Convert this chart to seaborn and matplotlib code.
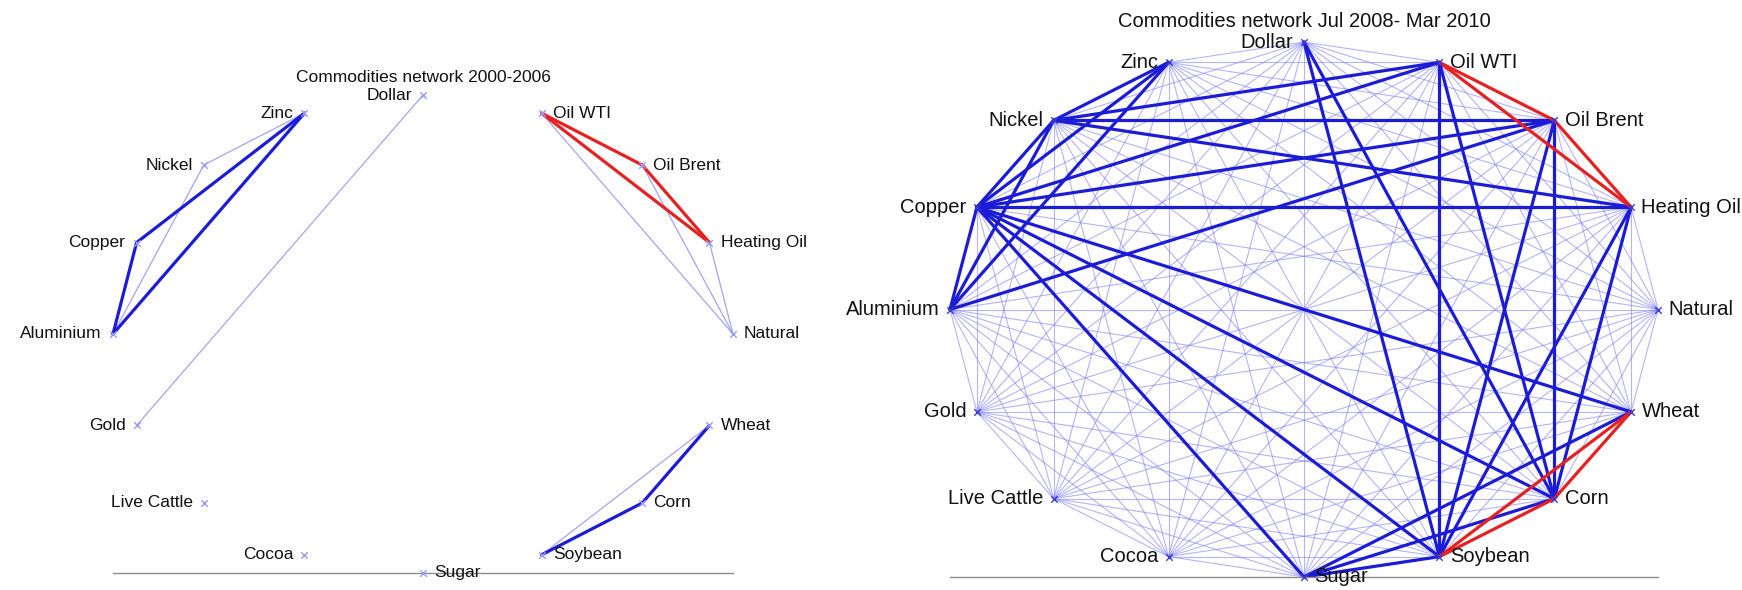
import numpy as np
import pandas as pd
import matplotlib
matplotlib.use("Agg")
import matplotlib.pyplot as plt
import seaborn as sns
from itertools import combinations

sns.set_theme(style="white")
plt.rcParams['font.family'] = ['Liberation Sans', 'DejaVu Sans']

# nodes, clockwise from the top
names = ['Dollar', 'Oil WTI', 'Oil Brent', 'Heating Oil', 'Natural', 'Wheat', 'Corn',
         'Soybean', 'Sugar', 'Cocoa', 'Live Cattle', 'Gold', 'Aluminium', 'Copper',
         'Nickel', 'Zinc']

# 2000-2006 network
left_weak = [('Dollar', 'Gold'), ('Zinc', 'Nickel'), ('Nickel', 'Aluminium'),
             ('Oil WTI', 'Natural'), ('Oil Brent', 'Natural'), ('Heating Oil', 'Natural'),
             ('Wheat', 'Soybean')]
left_strong = [('Zinc', 'Copper'), ('Zinc', 'Aluminium'), ('Copper', 'Aluminium'),
               ('Wheat', 'Corn'), ('Corn', 'Soybean')]
left_red = [('Oil WTI', 'Oil Brent'), ('Oil Brent', 'Heating Oil'), ('Oil WTI', 'Heating Oil')]

# Jul 2008 - Mar 2010 network (every pair at least weakly linked)
right_weak = list(combinations(names, 2))
right_strong = [('Zinc', 'Nickel'), ('Zinc', 'Copper'), ('Zinc', 'Aluminium'),
                ('Nickel', 'Copper'), ('Nickel', 'Aluminium'), ('Copper', 'Aluminium'),
                ('Nickel', 'Oil WTI'), ('Nickel', 'Oil Brent'), ('Nickel', 'Heating Oil'),
                ('Copper', 'Oil WTI'), ('Copper', 'Oil Brent'), ('Copper', 'Heating Oil'),
                ('Aluminium', 'Oil Brent'), ('Copper', 'Wheat'), ('Copper', 'Corn'),
                ('Copper', 'Soybean'), ('Copper', 'Sugar'), ('Dollar', 'Corn'),
                ('Dollar', 'Soybean'), ('Oil WTI', 'Corn'), ('Oil WTI', 'Soybean'),
                ('Oil Brent', 'Corn'), ('Oil Brent', 'Soybean'), ('Heating Oil', 'Corn'),
                ('Heating Oil', 'Soybean'), ('Sugar', 'Soybean'), ('Sugar', 'Corn'),
                ('Sugar', 'Wheat')]
right_red = [('Oil WTI', 'Oil Brent'), ('Oil Brent', 'Heating Oil'), ('Oil WTI', 'Heating Oil'),
             ('Wheat', 'Corn'), ('Wheat', 'Soybean'), ('Corn', 'Soybean')]

titles = ['Commodities network 2000-2006', 'Commodities network Jul 2008- Mar 2010']

# circular layout
ang = np.deg2rad(90 - 360 / len(names) * np.arange(len(names)))
nodes = pd.DataFrame({'name': names, 'x': np.cos(ang), 'y': np.sin(ang)})
pos = nodes.set_index('name')


def edge_frame(edges):
    rows = []
    for k, (a, b) in enumerate(edges):
        for n in (a, b):
            rows.append({'edge': k, 'x': pos.loc[n, 'x'], 'y': pos.loc[n, 'y']})
    return pd.DataFrame(rows)


def draw_net(ax, weak, strong, red, title, fs, pad, off, weak_kw, node_color):
    for edges, kw in [(weak, weak_kw),
                      (strong, dict(color='#1c1cd6', lw=2.3, alpha=1)),
                      (red, dict(color='#e52222', lw=2.3, alpha=1))]:
        sns.lineplot(data=edge_frame(edges), x='x', y='y', units='edge', estimator=None,
                     sort=False, ax=ax, legend=False, clip_on=False, **kw)
    sns.scatterplot(data=nodes, x='x', y='y', marker='x', s=22, color=node_color,
                    linewidth=1, ax=ax, legend=False, clip_on=False, zorder=5)
    for _, r in nodes.iterrows():
        right = r['x'] > 1e-6 or r['y'] < -0.99
        ax.annotate(r['name'], (r['x'], r['y']), xytext=(off if right else -off, 0),
                    textcoords='offset points', ha='left' if right else 'right',
                    va='center', fontsize=fs, color='#111111', annotation_clip=False)
    ax.set_xlim(-1, 1)
    ax.set_ylim(-1, 1)
    ax.set_title(title, fontsize=fs, pad=pad, color='#111111')
    ax.set_xticks([])
    ax.set_yticks([])
    ax.set_xlabel('')
    ax.set_ylabel('')
    for s in ['top', 'left', 'right']:
        ax.spines[s].set_visible(False)
    ax.spines['bottom'].set_color('#8c8c8c')
    ax.spines['bottom'].set_linewidth(1.0)
    ax.patch.set_alpha(0)


fig = plt.figure(figsize=(17.42, 5.90), dpi=100)
W, H = 1742, 590
ax1 = fig.add_axes([113 / W, 1 - 573 / H, 620 / W, 478 / H])
ax2 = fig.add_axes([950 / W, 1 - 577 / H, 708 / W, 535 / H])

draw_net(ax1, left_weak, left_strong, left_red, titles[0], 12.5, 9.5, 8,
         dict(color='#9a9af0', lw=0.9, alpha=0.9), '#9a9af5')
draw_net(ax2, right_weak, right_strong, right_red, titles[1], 14.5, 10.5, 7.5,
         dict(color='#8282f5', lw=0.8, alpha=0.6), '#3a3ad0')

fig.savefig('out.png', dpi=100)
